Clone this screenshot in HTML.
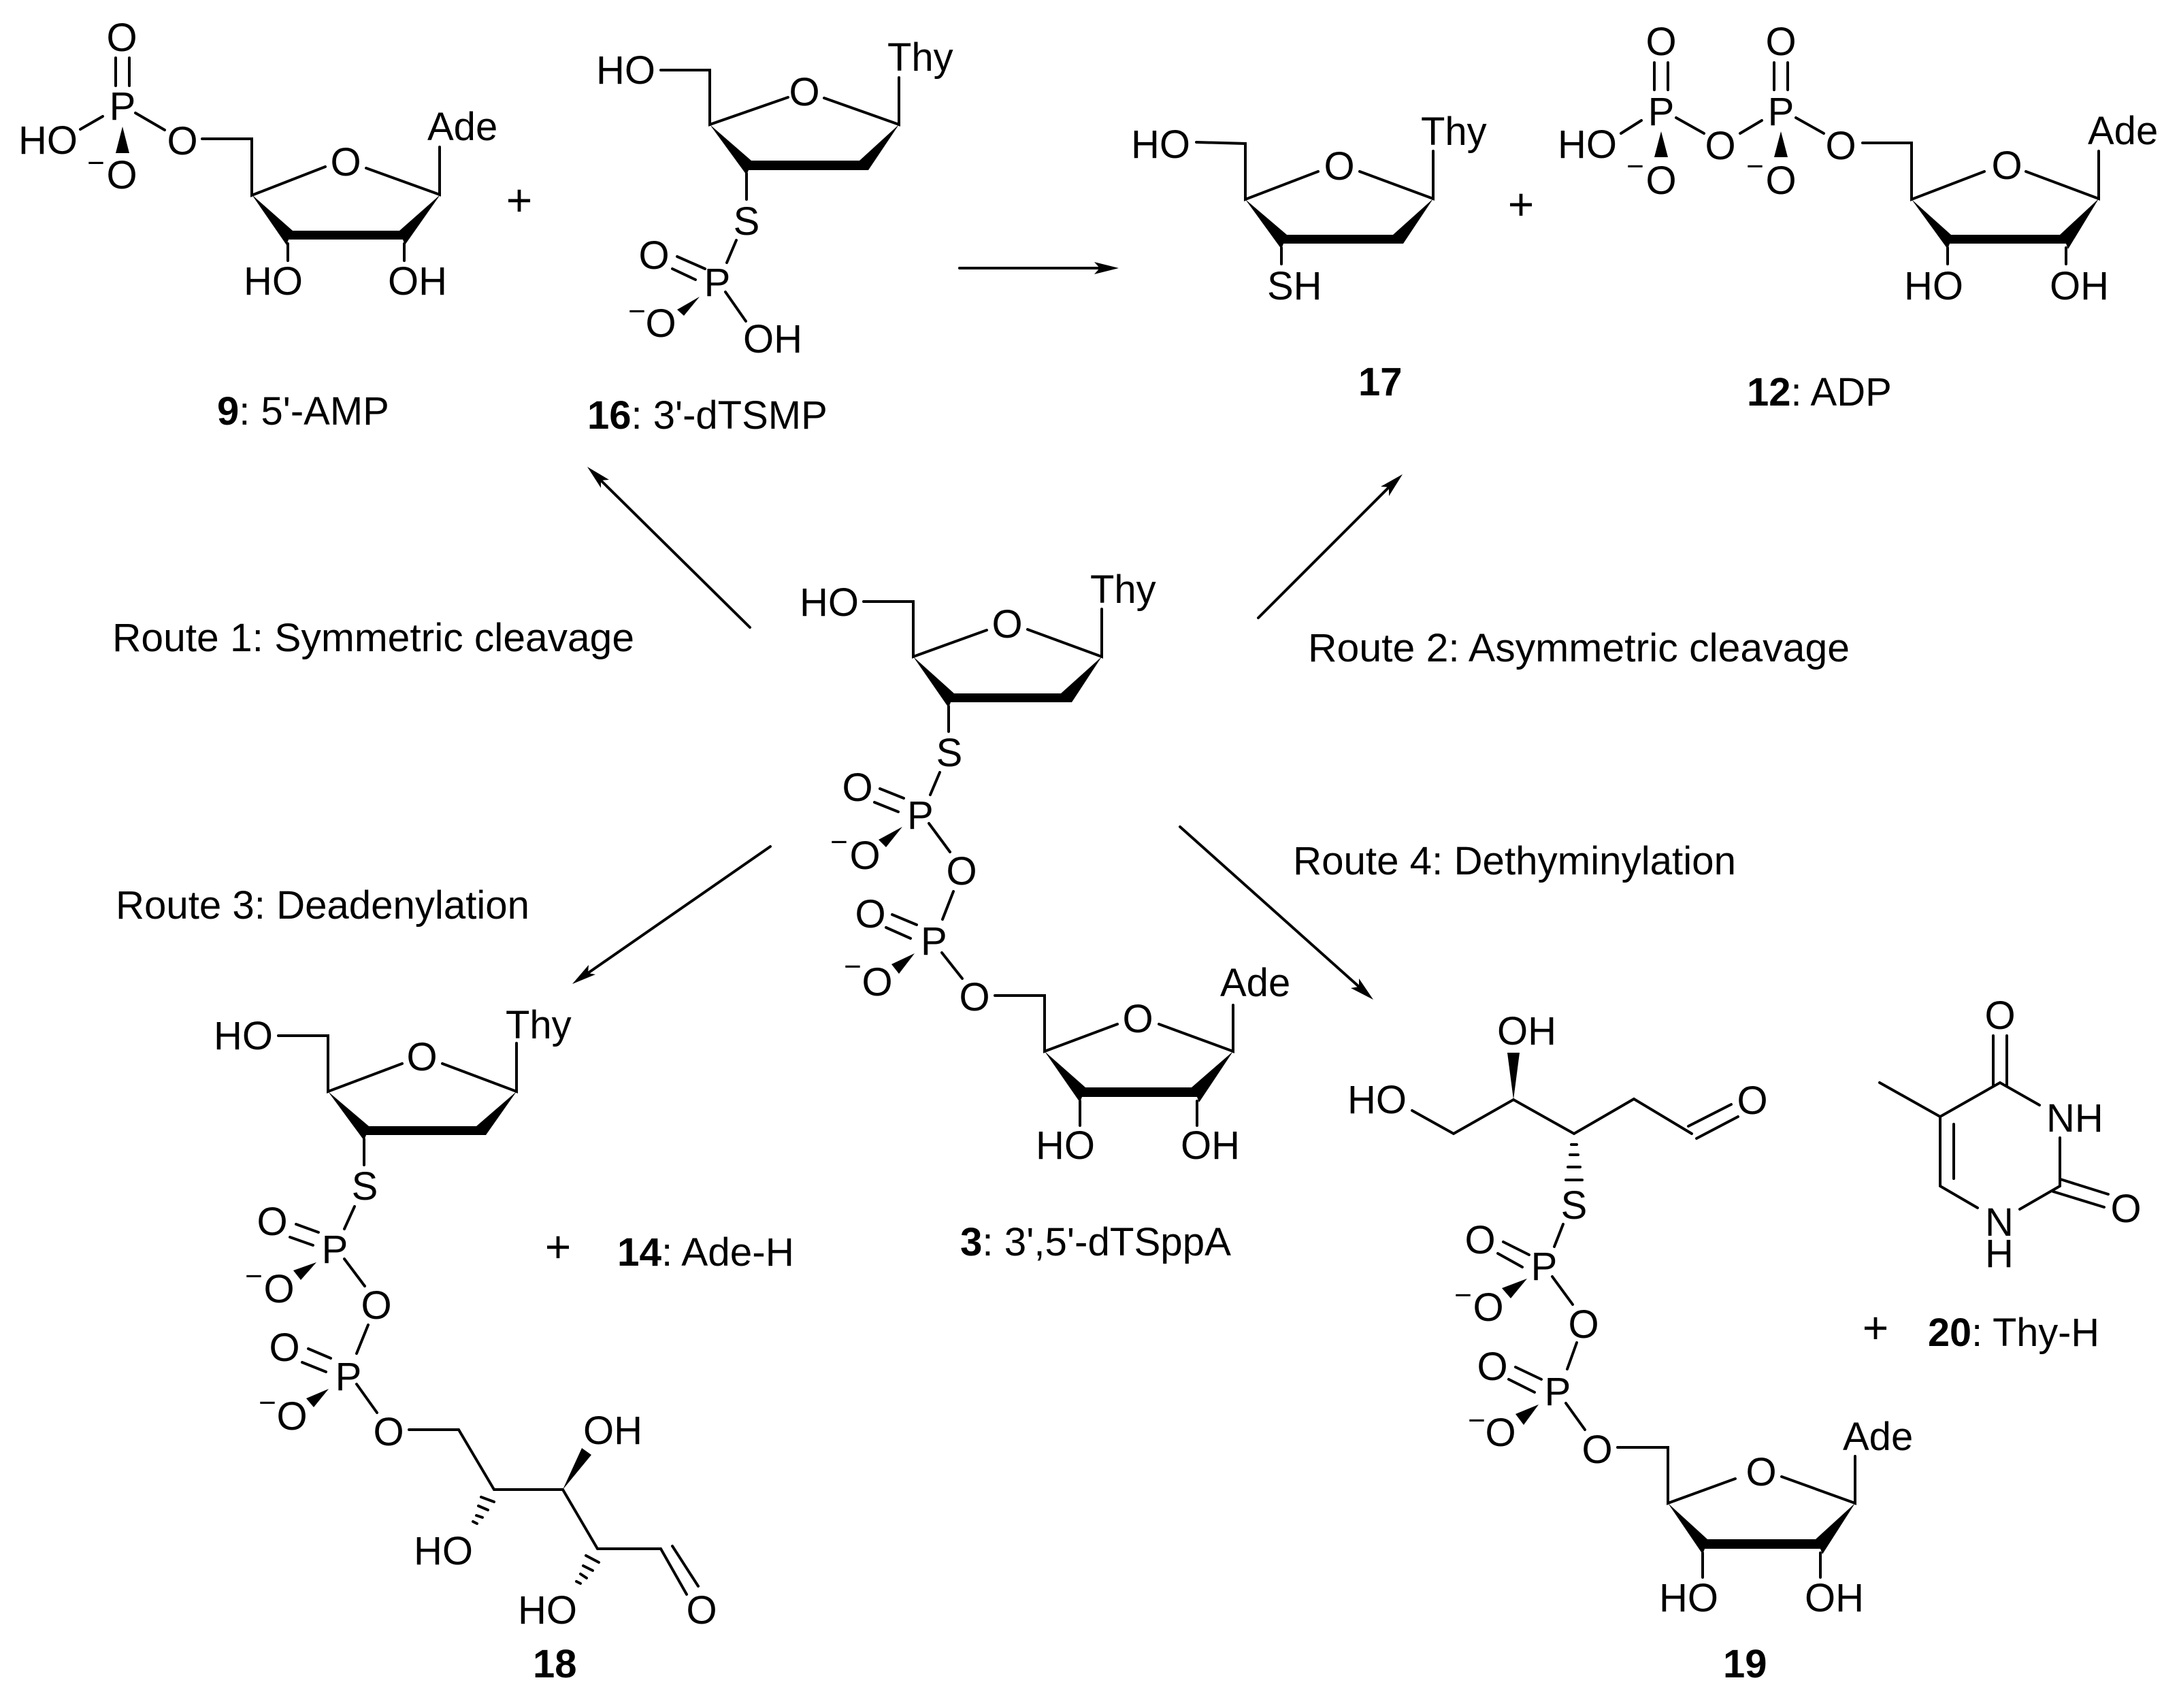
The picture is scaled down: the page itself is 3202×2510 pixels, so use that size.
<!DOCTYPE html>
<html><head><meta charset="utf-8"><style>
html,body{margin:0;padding:0;background:#fff}
svg{display:block}
text{font-family:"Liberation Sans",Arial,sans-serif;font-size:58px;fill:#000}
.m{text-anchor:middle}
.n{font-size:44px;text-anchor:middle}
.p{font-size:66px;text-anchor:middle}
.b{font-weight:bold}
path.l{fill:none;stroke:#000;stroke-width:4;stroke-linecap:round;stroke-linejoin:miter}
polygon{fill:#000;stroke:none}
</style></head><body>
<svg xmlns="http://www.w3.org/2000/svg" width="3202" height="2510" viewBox="0 0 3202 2510">
<rect width="3202" height="2510" fill="#fff"/>

<!-- arrows -->
<path class="l" d="M1410 394H1623M1102 922L881 704M1849 908L2044 713M1132 1244L864 1430M1734 1215L1997 1450"/>
<polygon points="1644,394 1608,385 1616,394 1608,403"/>
<polygon points="863,686 895,705 883,706 883,717"/>
<polygon points="2061,697 2041,729 2041,716 2029,715"/>
<polygon points="841,1446 875,1432 864,1430 865,1418"/>
<polygon points="2018,1469 1997,1438 1997,1450 1985,1452"/>

<!-- Route labels -->
<text x="165" y="957" textLength="767" lengthAdjust="spacingAndGlyphs">Route 1: Symmetric cleavage</text>
<text x="1922" y="972" textLength="796" lengthAdjust="spacingAndGlyphs">Route 2: Asymmetric cleavage</text>
<text x="170" y="1350" textLength="608" lengthAdjust="spacingAndGlyphs">Route 3: Deadenylation</text>
<text x="1900" y="1285" textLength="651" lengthAdjust="spacingAndGlyphs">Route 4: Dethyminylation</text>

<!-- 9: 5'-AMP -->
<path class="l" d="M170 85V126M190 85V126M118 190L151 171M199 166L242 191M297 204H370V287L478 245M538 247L646 286V216M423 358V383M594 358V383"/>
<polygon points="180,186 170,225 190,225"/>
<polygon points="370,286 430,339 587,339 647,286 595,360 592,352 424,352 421,360"/>
<text class="m" x="179" y="75">O</text>
<text class="m" x="180" y="176">P</text>
<text x="27" y="226">HO</text>
<text class="m" x="268" y="227">O</text>
<text class="m" x="179" y="277">O</text>
<text class="n" x="141" y="254">−</text>
<text class="m" x="508" y="258">O</text>
<text x="628" y="206">Ade</text>
<text x="358" y="433">HO</text>
<text x="570" y="433">OH</text>
<text class="p" x="763" y="317">+</text>
<text x="319" y="624"><tspan class="b">9</tspan>: 5'-AMP</text>

<!-- 16: 3'-dTSMP -->
<path class="l" d="M971 103H1043V183L1158 143M1211 144L1321 183V114M1097 255V293M1082 353L1068 386M995 377L1036 395M988 395L1022 411M1066 429L1096 472"/>
<polygon points="1043,183 1104,236 1263,236 1321,183 1276,250 1100,250 1097,257"/>
<polygon points="1028,436 995,455 1005,464"/>
<text x="876" y="123">HO</text>
<text class="m" x="1182" y="155">O</text>
<text x="1304" y="104">Thy</text>
<text class="m" x="1097" y="345">S</text>
<text class="m" x="1054" y="435">P</text>
<text class="m" x="961" y="395">O</text>
<text class="m" x="971" y="495">O</text>
<text class="n" x="936" y="472">−</text>
<text x="1092" y="518">OH</text>
<text x="863" y="630"><tspan class="b">16</tspan>: 3'-dTSMP</text>

<!-- 17 -->
<path class="l" d="M1758 209L1830 211V293L1937 252M1998 252L2106 292V222M1883 364V388"/>
<polygon points="1830,293 1891,345 2047,345 2106,292 2062,358 1886,358 1883,366"/>
<text x="1662" y="232">HO</text>
<text class="m" x="1968" y="264">O</text>
<text x="2088" y="213">Thy</text>
<text x="1862" y="440">SH</text>
<text class="p" x="2235" y="323">+</text>
<text class="b" x="1996" y="581">17</text>

<!-- 12: ADP -->
<path class="l" d="M2431 92V132M2451 92V132M2607 92V132M2627 92V132M2382 196L2412 177M2463 173L2504 196M2557 196L2589 177M2639 173L2680 196M2737 210H2809V293L2916 252M2977 252L3084 292V222M2862 364V388M3036 364V388"/>
<polygon points="2441,193 2431,231 2451,231"/>
<polygon points="2617,193 2607,231 2627,231"/>
<polygon points="2809,293 2867,345 3027,345 3084,292 3039,366 3036,358 2865,358 2862,366"/>
<text class="m" x="2441" y="81">O</text>
<text class="m" x="2617" y="81">O</text>
<text class="m" x="2441" y="184">P</text>
<text class="m" x="2617" y="184">P</text>
<text x="2289" y="232">HO</text>
<text class="m" x="2441" y="285">O</text>
<text class="n" x="2403" y="259">−</text>
<text class="m" x="2617" y="285">O</text>
<text class="n" x="2579" y="259">−</text>
<text class="m" x="2528" y="234">O</text>
<text class="m" x="2705" y="234">O</text>
<text class="m" x="2949" y="263">O</text>
<text x="3068" y="212">Ade</text>
<text x="2798" y="440">HO</text>
<text x="3012" y="440">OH</text>
<text x="2567" y="596"><tspan class="b">12</tspan>: ADP</text>

<!-- 3: centre -->
<path class="l" d="M1269 884H1342V965L1450 926M1510 925L1619 965V895M1394 1038V1075M1381 1135L1367 1168M1293 1159L1328 1173M1285 1179L1320 1193M1365 1210L1396 1252M1401 1310L1385 1351M1311 1344L1347 1359M1302 1363L1338 1379M1384 1400L1414 1438M1462 1463H1535V1545L1642 1505M1703 1505L1812 1545V1477M1587 1618V1654M1759 1618V1654"/>
<polygon points="1342,965 1402,1019 1559,1019 1619,965 1575,1032 1397,1032 1394,1040"/>
<polygon points="1326,1215 1291,1234 1302,1245"/>
<polygon points="1344,1401 1310,1417 1321,1431"/>
<polygon points="1535,1545 1595,1598 1751,1598 1812,1545 1762,1620 1759,1612 1590,1612 1587,1620"/>
<text x="1175" y="905">HO</text>
<text class="m" x="1480" y="937">O</text>
<text x="1602" y="886">Thy</text>
<text class="m" x="1395" y="1126">S</text>
<text x="1333" y="1218">P</text>
<text class="m" x="1260" y="1177">O</text>
<text class="m" x="1271" y="1277">O</text>
<text class="n" x="1233" y="1252">−</text>
<text class="m" x="1413" y="1300">O</text>
<text x="1353" y="1403">P</text>
<text class="m" x="1279" y="1363">O</text>
<text class="m" x="1289" y="1463">O</text>
<text class="n" x="1253" y="1435">−</text>
<text class="m" x="1432" y="1485">O</text>
<text class="m" x="1672" y="1517">O</text>
<text x="1793" y="1464">Ade</text>
<text x="1522" y="1703">HO</text>
<text x="1735" y="1703">OH</text>
<text x="1411" y="1845" textLength="398" lengthAdjust="spacingAndGlyphs"><tspan class="b">3</tspan>: 3',5'-dTSppA</text>

<!-- 18 -->
<path class="l" d="M409 1522H482V1604L591 1563M650 1563L759 1604V1533M535 1674V1712M521 1773L506 1806M435 1799L468 1811M426 1818L460 1830M506 1850L536 1890M541 1947L524 1989M453 1982L486 1996M444 2002L479 2016M524 2034L554 2076M601 2101H674L726 2189H827L878 2276H971L1009 2343M988 2272L1026 2331"/>
<path class="l" d="M707 2200L726 2207M703 2213L717 2219M700 2227L709 2230M695 2236L701 2239M861 2286L880 2296M857 2301L871 2308M853 2313L862 2319M847 2324L853 2327"/>
<polygon points="482,1604 542,1655 700,1655 759,1604 714,1668 538,1668 535,1676"/>
<polygon points="465,1855 431,1867 442,1881"/>
<polygon points="483,2041 450,2055 461,2068"/>
<polygon points="827,2189 855,2128 869,2138"/>
<text x="314" y="1542">HO</text>
<text class="m" x="620" y="1573">O</text>
<text x="743" y="1526">Thy</text>
<text class="m" x="536" y="1763">S</text>
<text class="m" x="492" y="1856">P</text>
<text class="m" x="400" y="1815">O</text>
<text class="m" x="410" y="1914">O</text>
<text class="n" x="373" y="1890">−</text>
<text class="m" x="553" y="1938">O</text>
<text class="m" x="512" y="2043">P</text>
<text class="m" x="418" y="2000">O</text>
<text class="m" x="429" y="2101">O</text>
<text class="n" x="393" y="2076">−</text>
<text class="m" x="571" y="2124">O</text>
<text x="857" y="2122">OH</text>
<text x="608" y="2299">HO</text>
<text x="761" y="2386">HO</text>
<text class="m" x="1031" y="2386">O</text>
<text class="p" x="820" y="1855">+</text>
<text x="907" y="1860" textLength="260" lengthAdjust="spacingAndGlyphs"><tspan class="b">14</tspan>: Ade-H</text>
<text class="b" x="783" y="2465">18</text>

<!-- 19 -->
<path class="l" d="M2075 1632L2136 1666L2224 1616L2313 1666L2401 1615L2486 1666M2481 1655L2544 1623M2493 1673L2554 1641M2297 1799L2284 1832M2209 1825L2247 1844M2201 1842L2237 1862M2281 1876L2311 1917M2317 1973L2303 2012M2227 2009L2265 2027M2217 2027L2255 2046M2301 2062L2329 2101M2377 2127H2451V2209L2550 2173M2618 2170L2726 2209V2140M2502 2282V2318M2675 2282V2318"/>
<path class="l" d="M2309 1682H2317M2307 1697H2319M2304 1715H2322M2301 1734H2325"/>
<polygon points="2224,1616 2215,1547 2233,1547"/>
<polygon points="2244,1879 2207,1893 2220,1908"/>
<polygon points="2261,2064 2227,2078 2239,2094"/>
<polygon points="2451,2209 2509,2262 2668,2262 2726,2209 2678,2284 2675,2276 2505,2276 2502,2284"/>
<text x="2200" y="1535">OH</text>
<text x="1980" y="1636">HO</text>
<text class="m" x="2575" y="1637">O</text>
<text class="m" x="2313" y="1791">S</text>
<text class="m" x="2269" y="1881">P</text>
<text class="m" x="2175" y="1842">O</text>
<text class="m" x="2187" y="1941">O</text>
<text class="n" x="2150" y="1918">−</text>
<text class="m" x="2327" y="1966">O</text>
<text class="m" x="2289" y="2065">P</text>
<text class="m" x="2193" y="2028">O</text>
<text class="m" x="2205" y="2125">O</text>
<text class="n" x="2170" y="2102">−</text>
<text class="m" x="2347" y="2150">O</text>
<text class="m" x="2588" y="2183">O</text>
<text x="2708" y="2131">Ade</text>
<text x="2438" y="2368">HO</text>
<text x="2652" y="2368">OH</text>
<text class="b" x="2532" y="2465">19</text>

<!-- 20: Thy-H -->
<path class="l" d="M2762 1591L2851 1641L2939 1591L2997 1624M2929 1522V1596M2949 1522V1596M3027 1672V1743L2968 1777M2851 1641V1743L2906 1775M2871 1652V1732M3028 1733L3098 1755M3017 1751L3092 1774"/>
<text class="m" x="2939" y="1512">O</text>
<text x="3007" y="1663">NH</text>
<text class="m" x="2938" y="1816">N</text>
<text class="m" x="2938" y="1862">H</text>
<text class="m" x="3124" y="1796">O</text>
<text class="p" x="2756" y="1974">+</text>
<text x="2833" y="1978" textLength="252" lengthAdjust="spacingAndGlyphs"><tspan class="b">20</tspan>: Thy-H</text>
</svg>
</body></html>
